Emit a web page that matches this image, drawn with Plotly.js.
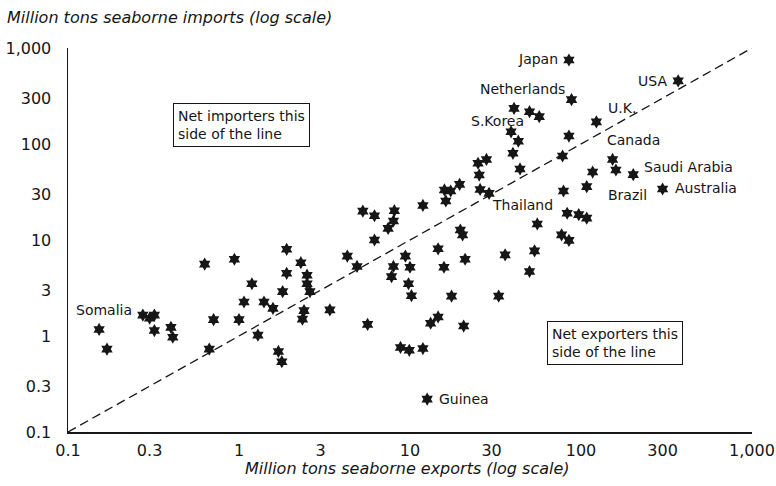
<!DOCTYPE html>
<html>
<head>
<meta charset="utf-8">
<script src="https://cdn.plot.ly/plotly-3.0.1.min.js"></script>
<style>html,body{margin:0;padding:0;background:#fff;}#chart{width:776px;height:486px;}</style>
</head>
<body>
<div id="chart"></div>
<script>
// Seaborne trade by country, million tons
const exportsMt = [85, 370, 88, 123, 40.6, 50, 57, 39, 43, 85,
  40, 78, 44, 25, 28, 25.4, 25.7, 29, 19.5, 15.9,
  17.3, 16.2, 11.9, 8.1, 5.3, 6.2, 8.0, 7.45, 6.2, 153,
  160, 202, 117, 108, 79, 300, 83, 97, 108, 55.5,
  77, 85, 53.5, 36, 50, 33, 19.7, 20.3, 14.6, 21,
  15.8, 17.5, 13.2, 14.6, 20.6, 11.9, 12.6, 9.4, 8, 10,
  7.8, 9.8, 10.2, 8.8, 9.9, 4.3, 4.9, 5.65, 3.4, 1.9,
  2.3, 1.9, 2.5, 2.5, 1.8, 2.6, 2.4, 2.35, 1.7, 1.78,
  0.63, 0.94, 1.19, 1.07, 1.4, 1.58, 0.71, 1.0, 1.29, 0.67,
  0.152, 0.169, 0.274, 0.30, 0.32, 0.32, 0.40, 0.41];
const importsMt = [750, 455, 290, 170, 235, 217, 193, 134, 107, 121,
  80, 75, 55, 63, 69, 47.5, 33.6, 30.6, 38, 33.2,
  32.4, 25.5, 22.9, 20.2, 20, 17.9, 15.8, 13.2, 10, 69,
  53.6, 48, 51, 36, 32.4, 34, 19, 18.4, 16.9, 14.7,
  11.3, 9.9, 7.7, 7, 4.7, 2.6, 12.7, 11.3, 8.1, 6.3,
  5.2, 2.6, 1.36, 1.58, 1.27, 0.74, 0.22, 6.8, 5.3, 5.2,
  4.15, 3.5, 2.63, 0.76, 0.71, 6.8, 5.3, 1.32, 1.87, 8,
  5.8, 4.5, 4.3, 3.5, 2.9, 2.9, 1.84, 1.5, 0.69, 0.54,
  5.6, 6.3, 3.5, 2.26, 2.26, 1.94, 1.48, 1.48, 1.02, 0.73,
  1.17, 0.73, 1.65, 1.53, 1.65, 1.14, 1.23, 0.97];

const labelNames = ['Japan', 'USA', 'Netherlands', 'S.Korea', 'U.K.', 'Canada',
  'Saudi Arabia', 'Australia', 'Brazil', 'Thailand', 'Guinea', 'Somalia'];
const labelPoint = [0, 1, 2, 4, 3, 29, 31, 35, 33, 17, 56, 90];

const parityLine = [0.1, 1000];  // exports = imports
const tickVals = [0.1, 0.3, 1, 3, 10, 30, 100, 300, 1000];
const tickText = ['0.1', '0.3', '1', '3', '10', '30', '100', '300', '1,000'];

// label placement (pixels relative to the star)
const place = {
  'Japan': ['right', -9, 1], 'USA': ['right', -9, 0], 'Netherlands': ['right', -5, 11],
  'S.Korea': ['right', 12, -13], 'U.K.': ['left', 10, 14], 'Canada': ['left', -8, 19],
  'Saudi Arabia': ['left', 9, 8], 'Australia': ['left', 10, 1], 'Brazil': ['left', 19, -8],
  'Thailand': ['left', 1, -12], 'Guinea': ['left', 10, 0], 'Somalia': ['center', 5, 19]
};

const FONT = 'DejaVu Sans, Arial, sans-serif';
const INK = '#161616';

const annotations = labelNames.map((name, i) => {
  const k = labelPoint[i];
  const p = place[name];
  return {
    x: Math.log10(exportsMt[k]), y: Math.log10(importsMt[k]), xref: 'x', yref: 'y',
    text: name, showarrow: false, xanchor: p[0], yanchor: 'middle',
    xshift: p[1], yshift: p[2], font: {family: FONT, size: 14, color: INK}
  };
});

annotations.push({
  xref: 'paper', yref: 'paper', x: 0.1535, y: 0.857, xanchor: 'left', yanchor: 'top',
  text: 'Net importers this<br>side of the line', align: 'left', showarrow: false,
  bordercolor: INK, borderwidth: 1, borderpad: 4, bgcolor: '#fff',
  font: {family: FONT, size: 14, color: INK}
});
annotations.push({
  xref: 'paper', yref: 'paper', x: 0.700, y: 0.289, xanchor: 'left', yanchor: 'top',
  text: 'Net exporters this<br>side of the line', align: 'left', showarrow: false,
  bordercolor: INK, borderwidth: 1, borderpad: 4, bgcolor: '#fff',
  font: {family: FONT, size: 14, color: INK}
});
annotations.push({
  xref: 'paper', yref: 'paper', x: -0.092, y: 1.08, xanchor: 'left', yanchor: 'middle',
  text: 'Million tons seaborne imports (log scale)', showarrow: false,
  font: {family: FONT, size: 16, color: INK, style: 'italic'}
});
annotations.push({
  xref: 'paper', yref: 'paper', x: 0.496, y: -0.094, xanchor: 'center', yanchor: 'middle',
  text: 'Million tons seaborne exports (log scale)', showarrow: false,
  font: {family: FONT, size: 16, color: INK, style: 'italic'}
});

const traces = [
  {
    x: parityLine, y: parityLine, mode: 'lines', type: 'scatter', hoverinfo: 'skip',
    line: {color: INK, width: 1.3, dash: '9px,5px'}
  },
  {
    x: exportsMt, y: importsMt, mode: 'markers', type: 'scatter',
    marker: {symbol: 'hexagram', size: 10, color: INK, line: {width: 0}}
  }
];

const axisCommon = {
  type: 'log', tickvals: tickVals, ticktext: tickText, showgrid: false, zeroline: false,
  showline: true, linecolor: INK, linewidth: 1.5, ticks: 'outside', tickcolor: 'rgba(0,0,0,0)',
  tickfont: {family: FONT, size: 16, color: INK}
};

const layout = {
  width: 776, height: 486, showlegend: false,
  margin: {l: 68, r: 24, t: 48, b: 54},
  paper_bgcolor: '#fff', plot_bgcolor: '#fff',
  xaxis: Object.assign({}, axisCommon, {range: [-1, 3], ticklen: 3}),
  yaxis: Object.assign({}, axisCommon, {range: [-1, 3], ticklen: 12}),
  annotations: annotations
};

Plotly.newPlot('chart', traces, layout, {displayModeBar: false, staticPlot: true});
</script>
</body>
</html>
